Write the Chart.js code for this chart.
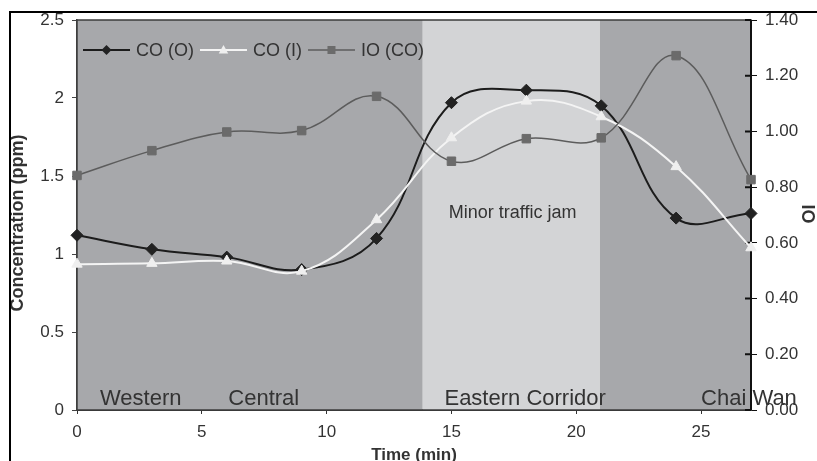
<!DOCTYPE html>
<html>
<head>
<meta charset="utf-8">
<script src="https://cdn.jsdelivr.net/npm/chart.js@4/dist/chart.umd.min.js"></script>
<style>
  html, body { margin: 0; padding: 0; background: #fff; overflow: hidden; }
  #wrap { position: relative; width: 817px; height: 461px; }
  #frame { position: absolute; left: 9px; top: 11px; width: 900px; height: 600px;
           border: 2px solid #000; box-sizing: border-box; pointer-events: none; }
  canvas { position: absolute; left: 0; top: 0; }
</style>
</head>
<body>
<div id="wrap">
  <canvas id="chart" width="817" height="461"></canvas>
  <div id="frame"></div>
</div>
<script>
// sampling times (min)
const times = [0, 3, 6, 9, 12, 15, 18, 21, 24, 27];
// outdoor / indoor CO (ppm), left axis
const coOutdoor = [1.12, 1.03, 0.98, 0.90, 1.10, 1.97, 2.05, 1.95, 1.23, 1.26];
const coIndoor  = [0.935, 0.94, 0.955, 0.89, 1.22, 1.745, 1.98, 1.88, 1.56, 1.04];
// indoor/outdoor ratio, right axis
const ioRatio   = [0.842, 0.931, 0.998, 1.003, 1.126, 0.893, 0.974, 0.977, 1.272, 0.827];

// route sections along the time axis
const sections = [
  { from: 0,    to: 13.85, shade: 'dark' },
  { from: 13.85, to: 20.95, shade: 'light' },
  { from: 20.95, to: 27,   shade: 'dark' }
];
const sectionNames = ['Western', 'Central', 'Eastern Corridor', 'Chai Wan'];
const sectionNameAt = [0.92, 6.06, 14.72, 25.0];
const jamNote = 'Minor traffic jam';
const jamNoteAt = [17.45, 1.26];

const leftTicks = [0, 0.5, 1, 1.5, 2, 2.5];
const rightTicks = [0, 0.2, 0.4, 0.6, 0.8, 1.0, 1.2, 1.4];
const xTicks = [0, 5, 10, 15, 20, 25];

const FONT = '"Liberation Sans", Arial, sans-serif';
const TEXT = '#333';

function pts(ys) {
  return times.map((t, i) => ({ x: t, y: ys[i] }));
}

// shaded sections behind the plot
const bandsPlugin = {
  id: 'bands',
  beforeDatasetsDraw(chart) {
    const { ctx, chartArea: a, scales: { x } } = chart;
    const r = chart.scales.y1;
    ctx.save();
    sections.forEach(s => {
      const x0 = x.getPixelForValue(s.from);
      const x1 = x.getPixelForValue(s.to);
      ctx.fillStyle = s.shade === 'dark' ? '#a7a8ab' : '#d3d4d6';
      ctx.fillRect(x0, a.top, x1 - x0, a.bottom - a.top);
    });
    // plot frame
    ctx.strokeStyle = '#3c3c3c';
    ctx.lineWidth = 1.5;
    ctx.strokeRect(a.left, a.top, a.right - a.left, a.bottom - a.top);

    // right axis line with ticks crossing into the plot
    ctx.strokeStyle = '#111';
    ctx.lineWidth = 2;
    ctx.beginPath();
    ctx.moveTo(a.right, a.top);
    ctx.lineTo(a.right, a.bottom);
    rightTicks.forEach(v => {
      const py = r.getPixelForValue(v);
      ctx.moveTo(a.right - 6, py);
      ctx.lineTo(a.right, py);
    });
    ctx.stroke();

    // section names
    ctx.fillStyle = TEXT;
    ctx.font = '22px ' + FONT;
    ctx.textBaseline = 'alphabetic';
    ctx.textAlign = 'left';
    sectionNames.forEach((n, i) => {
      ctx.fillText(n, x.getPixelForValue(sectionNameAt[i]), a.bottom - 5);
    });
    ctx.font = '18px ' + FONT;
    ctx.textAlign = 'center';
    ctx.textBaseline = 'middle';
    ctx.fillText(jamNote, x.getPixelForValue(jamNoteAt[0]),
      chart.scales.y.getPixelForValue(jamNoteAt[1]));
    ctx.restore();
  }
};

function drawMarker(ctx, style, rad, cx, cy) {
  if (style === 'rectRot') {
    ctx.moveTo(cx, cy - rad); ctx.lineTo(cx + rad, cy);
    ctx.lineTo(cx, cy + rad); ctx.lineTo(cx - rad, cy); ctx.closePath();
  } else if (style === 'triangle') {
    ctx.moveTo(cx, cy - rad); ctx.lineTo(cx + rad * 0.95, cy + rad * 0.7);
    ctx.lineTo(cx - rad * 0.95, cy + rad * 0.7); ctx.closePath();
  } else {
    ctx.rect(cx - rad * 0.8, cy - rad * 0.8, rad * 1.6, rad * 1.6);
  }
}

// legend and axis titles
const decorPlugin = {
  id: 'decor',
  afterDraw(chart) {
    const { ctx, chartArea: a } = chart;
    ctx.save();

    // legend (outdoor first)
    const ly = 50;
    let lx = a.left + 6;
    chart.data.datasets.slice().reverse().forEach(ds => {
      ctx.strokeStyle = ds.borderColor;
      ctx.lineWidth = ds.borderWidth;
      ctx.beginPath();
      ctx.moveTo(lx, ly);
      ctx.lineTo(lx + 47, ly);
      ctx.stroke();
      ctx.fillStyle = ds.pointBackgroundColor;
      ctx.beginPath();
      drawMarker(ctx, ds.pointStyle, ds.pointRadius - 1, lx + 23.5, ly);
      ctx.fill();
      ctx.font = '18px ' + FONT;
      ctx.fillStyle = TEXT;
      ctx.textAlign = 'left';
      ctx.textBaseline = 'middle';
      ctx.fillText(ds.label, lx + 53, ly + 1);
      lx += 53 + ctx.measureText(ds.label).width + 6;
    });

    // axis titles
    ctx.fillStyle = TEXT;
    ctx.font = 'bold 18px ' + FONT;
    ctx.textAlign = 'center';
    ctx.textBaseline = 'middle';
    ctx.save();
    ctx.translate(18, 223);
    ctx.rotate(-Math.PI / 2);
    ctx.fillText('Concentration (ppm)', 0, 0);
    ctx.restore();
    ctx.save();
    ctx.translate(807, 214);
    ctx.rotate(Math.PI / 2);
    ctx.fillText('IO', 0, 0);
    ctx.restore();
    ctx.font = 'bold 17px ' + FONT;
    ctx.fillText('Time (min)', (a.left + a.right) / 2, 455);
    ctx.restore();
  }
};

function lineSet(label, ys, axis, color, width, marker, fill, rad) {
  return {
    label,
    data: pts(ys),
    yAxisID: axis,
    borderColor: color,
    borderWidth: width,
    tension: 0.4,
    pointStyle: marker,
    pointRadius: rad,
    pointBackgroundColor: fill,
    pointBorderColor: fill,
    pointBorderWidth: 1,
    clip: false
  };
}

new Chart(document.getElementById('chart'), {
  type: 'line',
  data: {
    datasets: [
      lineSet('IO (CO)', ioRatio, 'y1', '#5c5c5c', 1.5, 'rect', '#6b6b6b', 6),
      lineSet('CO (I)', coIndoor, 'y', '#f4f4f4', 2, 'triangle', '#efefef', 6),
      lineSet('CO (O)', coOutdoor, 'y', '#1c1c1c', 2, 'rectRot', '#222', 6)
    ]
  },
  options: {
    responsive: false,
    animation: false,
    layout: { padding: { top: 20, left: 0, right: 0, bottom: 0 } },
    plugins: { legend: { display: false }, tooltip: { enabled: false } },
    scales: {
      x: {
        type: 'linear', min: 0, max: 27,
        afterBuildTicks: s => { s.ticks = xTicks.map(v => ({ value: v })); },
        afterFit: s => { s.height = 51; },
        grid: { drawOnChartArea: false, tickLength: 4, color: '#333' },
        border: { color: '#333', width: 2 },
        ticks: { padding: 8, color: TEXT, font: { family: FONT, size: 17 } }
      },
      y: {
        position: 'left', min: 0, max: 2.5,
        afterBuildTicks: s => { s.ticks = leftTicks.map(v => ({ value: v })); },
        afterFit: s => { s.width = 77; },
        grid: { drawOnChartArea: false, tickLength: 5, color: '#444' },
        border: { color: '#444', width: 1.5 },
        ticks: { padding: 8, color: TEXT, font: { family: FONT, size: 17 },
                 callback: v => String(v) }
      },
      y1: {
        position: 'right', min: 0, max: 1.4,
        afterBuildTicks: s => { s.ticks = rightTicks.map(v => ({ value: v })); },
        afterFit: s => { s.width = 66; },
        grid: { drawOnChartArea: false, tickLength: 6, color: '#111' },
        border: { display: false },
        ticks: { padding: 8, color: TEXT, font: { family: FONT, size: 17 },
                 callback: v => Number(v).toFixed(2) }
      }
    }
  },
  plugins: [bandsPlugin, decorPlugin]
});
</script>
</body>
</html>
